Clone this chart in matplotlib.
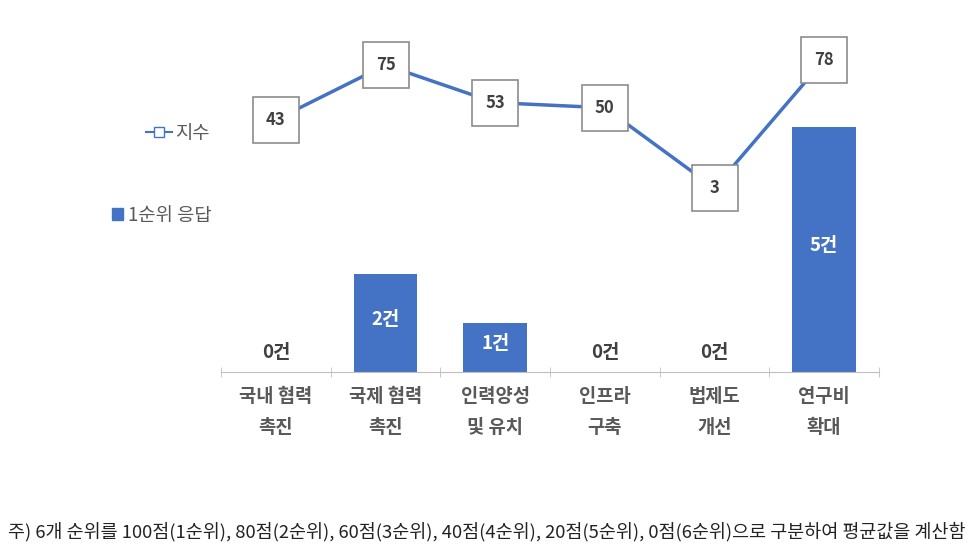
import numpy as np
import matplotlib
matplotlib.use("Agg")
import matplotlib.pyplot as plt
from matplotlib.lines import Line2D
from matplotlib.patches import Patch

plt.rcParams['font.family'] = ['Noto Sans CJK KR', 'DejaVu Sans']

# data
categories = ['국내 협력\n촉진', '국제 협력\n촉진', '인력양성\n및 유치', '인프라\n구축', '법제도\n개선', '연구비\n확대']
first_rank = [0, 2, 1, 0, 0, 5]
index_vals = [43, 75, 53, 50, 3, 78]
note = '주) 6개 순위를 100점(1순위), 80점(2순위), 60점(3순위), 40점(4순위), 20점(5순위), 0점(6순위)으로 구분하여 평균값을 계산함'

blue = '#4472C4'
grey_txt = '#404040'
W, H = 974, 558

fig = plt.figure(figsize=(W / 100, H / 100), dpi=100)
# axes in pixel terms: x 221..879, baseline y=372, top y=20
ax = fig.add_axes([221 / W, (H - 372) / H, (879 - 221) / W, (372 - 20) / H])
x = np.arange(len(categories))

ax.bar(x, first_rank, width=0.58, color=blue, zorder=2)
ax.set_xlim(-0.5, 5.5)
ax.set_ylim(0, 352 / 49)
for xi, v in zip(x, first_rank):
    if v == 0:
        ax.text(xi, 0.2, f'{v}건', ha='center', va='bottom', fontsize=13.5, fontweight='bold', color=grey_txt)
    else:
        ax.text(xi, v / 2 + 0.08, f'{v}건', ha='center', va='center', fontsize=13.5, fontweight='bold', color='white')

for s in ['top', 'right', 'left']:
    ax.spines[s].set_visible(False)
ax.spines['bottom'].set_color('#BFBFBF')
ax.set_yticks([])
ax.set_xticks(x)
ax.set_xticklabels(categories, fontsize=13.5, fontweight='bold', color='#595959', linespacing=1.8)
ax.tick_params(axis='x', which='major', length=0, pad=11)
ax.set_xticks(np.arange(-0.5, 6.0, 1.0), minor=True)
ax.tick_params(axis='x', which='minor', length=7, direction='inout', color='#BFBFBF')

# line on a secondary axis
ax2 = ax.twinx()
ax2.set_ylim(-178.9 / 1.707, (352 - 178.9) / 1.707)
ax2.axis('off')
ax2.plot(x, index_vals, color=blue, lw=2.5, zorder=1)
ax2.plot(x, index_vals, linestyle='none', marker='s', markersize=33,
         markerfacecolor='white', markeredgecolor='#8C8C8C', markeredgewidth=1.2, zorder=3)
for xi, v in zip(x, index_vals):
    ax2.text(xi, v, str(v), ha='center', va='center', fontsize=12, fontweight='bold', color=grey_txt, zorder=4)

# legends
h1 = Line2D([0], [0], color=blue, lw=1.5, marker='s', markersize=7, markerfacecolor='white', markeredgecolor=blue)
fig.legend([h1], ['지수'], loc='center', bbox_to_anchor=(178 / W, 1 - 133 / H), frameon=False,
           fontsize=13.5, labelcolor='#595959', handlelength=1.4, handletextpad=0.15)
h2 = Patch(color=blue)
fig.legend([h2], ['1순위 응답'], loc='center', bbox_to_anchor=(162 / W, 1 - 215 / H), frameon=False,
           fontsize=13.5, labelcolor='#595959', handlelength=0.55, handleheight=0.55, handletextpad=0.3)

fig.text(8 / W, 1 - 532 / H, note, ha='left', va='center', fontsize=13.3, color='#222222')

fig.savefig('out.png', dpi=100)
